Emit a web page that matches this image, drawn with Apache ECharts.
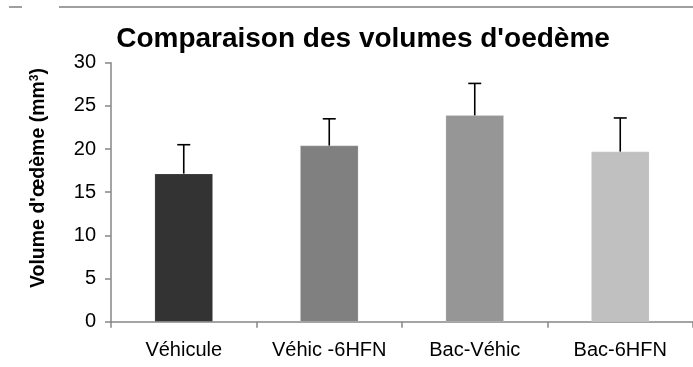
<!DOCTYPE html>
<html>
<head>
<meta charset="utf-8">
<script src="https://cdn.jsdelivr.net/npm/echarts@6/dist/echarts.min.js"></script>
<style>
  html, body { margin: 0; padding: 0; background: #fff; }
  #chart { width: 693px; height: 367px; }
</style>
</head>
<body>
<div id="chart"></div>
<script>
// Oedema volume per treatment group (mean, upper error)
const categories = ['Véhicule', 'Véhic -6HFN', 'Bac-Véhic', 'Bac-6HFN'];
const volumes = [17.15, 20.4, 23.9, 19.7];
const errors = [3.35, 3.1, 3.7, 3.9];
const barColors = ['#333333', '#808080', '#969696', '#c0c0c0'];
const yTicks = { min: 0, max: 30, interval: 5 };

const FONT = '"Liberation Sans", Arial, sans-serif';
const chart = echarts.init(document.getElementById('chart'));

const errorData = volumes.map((v, i) => [i, v, v + errors[i]]);

chart.setOption({
  animation: false,
  title: {
    text: "Comparaison des volumes d'oedème",
    left: 358, top: 20, textAlign: 'center',
    textStyle: { fontFamily: FONT, fontSize: 28, fontWeight: 'bold', color: '#000' }
  },
  grid: { left: 111, top: 62.7, width: 588, height: 259 },
  graphic: [
    { type: 'line', shape: { x1: 9, y1: 7, x2: 22, y2: 7 }, style: { stroke: '#7f7f7f', lineWidth: 1.5 } },
    { type: 'line', shape: { x1: 59, y1: 7, x2: 693, y2: 7 }, style: { stroke: '#7f7f7f', lineWidth: 1.5 } },
    {
      // y axis title with superscript unit
      type: 'text',
      x: 39, y: 178,
      rotation: Math.PI / 2,
      style: {
        text: "{a|Volume d'œdème (mm}{s|3}{a|)}",
        align: 'center',
        verticalAlign: 'middle',
        rich: {
          a: { fontFamily: FONT, fontSize: 19.5, fontWeight: 'bold', fill: '#000' },
          s: { fontFamily: FONT, fontSize: 12, fontWeight: 'bold', fill: '#000', verticalAlign: 'top', padding: [0, 0, 8, 0] }
        }
      }
    }
  ],
  xAxis: {
    type: 'category',
    data: categories,
    axisLine: { lineStyle: { color: '#868686', width: 1.5 } },
    axisTick: { show: true, interval: 0, length: 6, alignWithLabel: false, lineStyle: { color: '#868686', width: 1.5 } },
    axisLabel: { interval: 0, hideOverlap: false, fontFamily: FONT, fontSize: 20, color: '#000', margin: 19 }
  },
  yAxis: {
    type: 'value',
    min: yTicks.min, max: yTicks.max, interval: yTicks.interval,
    axisLine: { show: true, lineStyle: { color: '#868686', width: 1.5 } },
    axisTick: { show: true, inside: false, length: 6, lineStyle: { color: '#868686', width: 1.5 } },
    axisLabel: { fontFamily: FONT, fontSize: 20, color: '#000', margin: 15 },
    splitLine: { show: false }
  },
  series: [
    {
      type: 'bar',
      barWidth: '40%',
      data: volumes.map((v, i) => ({
        value: v,
        itemStyle: { color: barColors[i], borderColor: 'rgba(255,255,255,0.35)', borderWidth: 0.5 }
      })),
      z: 2
    },
    {
      type: 'custom',
      z: 3,
      data: errorData,
      renderItem: function (params, api) {
        const x = api.coord([api.value(0), api.value(1)])[0];
        const yLow = api.coord([api.value(0), api.value(1)])[1];
        const yHigh = api.coord([api.value(0), api.value(2)])[1];
        const half = 6.5;
        const style = { stroke: '#000', lineWidth: 1.6 };
        return {
          type: 'group',
          children: [
            { type: 'line', shape: { x1: x, y1: yLow, x2: x, y2: yHigh }, style },
            { type: 'line', shape: { x1: x - half, y1: yHigh, x2: x + half, y2: yHigh }, style }
          ]
        };
      }
    }
  ]
});
</script>
</body>
</html>
